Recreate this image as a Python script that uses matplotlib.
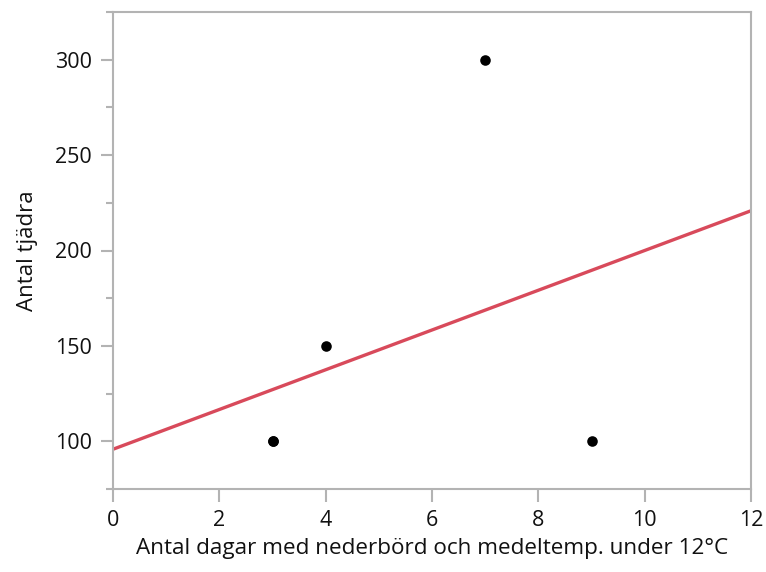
import numpy as np
import matplotlib
matplotlib.use("Agg")
import matplotlib.pyplot as plt
from matplotlib.ticker import MultipleLocator

plt.rcParams['font.family'] = ['Open Sans', 'DejaVu Sans']

x_days = [3, 3, 4, 7, 9]
y_count = [100, 100, 150, 300, 100]
x_ticks = [0, 2, 4, 6, 8, 10, 12]
y_ticks = [100, 150, 200, 250, 300]

fig = plt.figure(figsize=(7.66, 5.72), dpi=100)
ax = fig.add_axes([113/766, 1 - 489/572, (751-113)/766, (489-12)/572])

# regression line
xs = np.array(x_days, dtype=float)
ys = np.array(y_count, dtype=float)
slope, intercept = np.polyfit(xs, ys, 1)
lx = np.array([0, 12])
ax.plot(lx, intercept + slope * lx, color='#d84a5b', lw=2.4, zorder=2, solid_capstyle='butt')

ax.scatter(x_days, y_count, s=58, color='black', zorder=3, linewidths=0)

ax.set_xlim(0, 12)
ax.set_ylim(75, 325)
ax.set_xticks(x_ticks)
ax.set_yticks(y_ticks)
ax.yaxis.set_minor_locator(MultipleLocator(25))

gray = '#b3b3b3'
for s in ax.spines.values():
    s.set_color(gray)
    s.set_linewidth(1.5)
ax.tick_params(axis='both', which='major', color=gray, width=1.5, length=9, labelsize=15.5, pad=6, labelcolor='#111111')
ax.tick_params(axis='y', which='minor', color=gray, width=1.5, length=5)
ax.tick_params(axis='x', which='minor', length=0)

ax.set_xlabel('Antal dagar med nederbörd och medeltemp. under 12°C', fontsize=16.2, labelpad=5, color='#111111')
ax.set_ylabel('Antal tjädra', fontsize=16, labelpad=12, color='#111111')

fig.savefig('out.png', dpi=100)
